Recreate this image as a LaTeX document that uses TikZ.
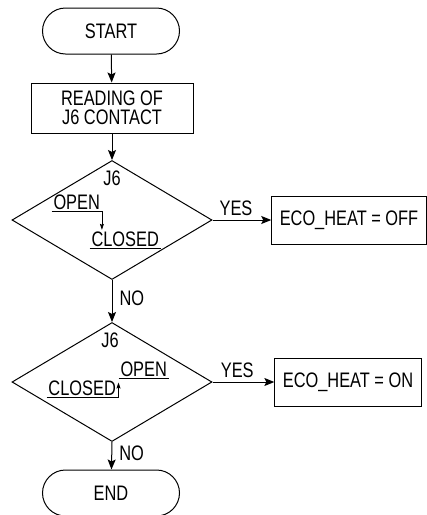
\documentclass[tikz,border=0pt]{standalone}
\usepackage{fontspec}
\setmainfont{Liberation Sans}[FakeStretch=0.78]
\usetikzlibrary{shapes.geometric,arrows.meta}

\begin{document}
\begin{tikzpicture}[
    x=1pt, y=-1pt, line width=1pt,
    every node/.style={font=\fontsize{21}{19.5}\selectfont, inner sep=0pt},
    term/.style={rectangle, draw, rounded corners=23pt, minimum width=137pt, minimum height=46pt},
    proc/.style={rectangle, draw, align=center, minimum width=162pt, minimum height=50pt},
    result/.style={rectangle, draw, minimum height=48pt, inner xsep=8pt},
    dec/.style={diamond, draw, minimum width=200pt, minimum height=119pt},
    flow/.style={-{Stealth[length=10pt, width=8pt, inset=2pt]}},
    tick/.style={-{Stealth[length=6pt, width=4pt, inset=1pt]}, line width=0.8pt},
    uline/.style={inner sep=1.5pt, text depth=0pt, anchor=base west}
  ]
  \useasboundingbox (0,0) rectangle (427,515);

  % main column
  \node[term] (start) at (111,31) {START};
  \node[proc] (read) at (112,108) {READING OF\\J6 CONTACT};
  \node[dec] (chk1) at (112,220) {};
  \node[dec] (chk2) at (112,382) {};
  \node[term] (stop) at (111,493) {END};

  % results
  \node[result] (off) at (349,220) {ECO\_HEAT = OFF};
  \node[result] (on) at (348,382) {ECO\_HEAT = ON};

  % first test: open -> closed
  \node (j6a) at (112,178) {J6};
  \node[uline] (open1) at (51.5,209.5) {OPEN};
  \node[uline] (closed1) at (89.5,246.5) {CLOSED};
  \draw[tick] (open1.south west) -- (open1.south east) -- (open1.south east |- closed1.north);
  \draw[line width=0.8pt] (closed1.south west) -- (closed1.south east);

  % second test: closed -> open
  \node (j6b) at (110,340) {J6};
  \node[uline] (open2) at (118.5,376.5) {OPEN};
  \node[uline] (closed2) at (46.5,395.5) {CLOSED};
  \draw[line width=0.8pt] (open2.south west) -- (open2.south east);
  \draw[tick] (closed2.south west) -- (closed2.south east) -| ([yshift=-4pt]open2.south west);

  % connectors
  \draw[flow] (start) -- (read);
  \draw[flow] (read) -- (chk1);
  \draw[flow] (chk1.east) -- (off.west) node[pos=0.4, above=4pt] {YES};
  \draw[flow] (chk1.south) -- (chk2.north) node[pos=0.43, right=7pt] {NO};
  \draw[flow] (chk2.east) -- (on.west) node[pos=0.4, above=4pt] {YES};
  \draw[flow] (chk2.south) -- (stop) node[pos=0.4, right=7pt] {NO};
\end{tikzpicture}
\end{document}
